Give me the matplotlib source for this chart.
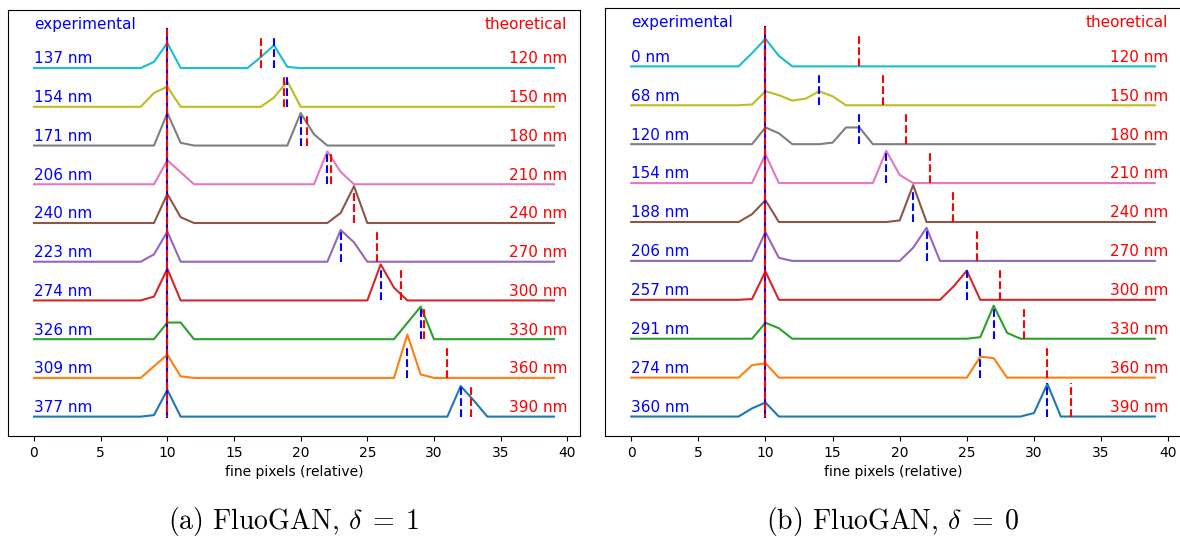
import numpy as np
import matplotlib
matplotlib.use("Agg")
import matplotlib.pyplot as plt

plt.rcParams['mathtext.fontset'] = 'cm'

# fine pixel grid
x = np.arange(40)
ref_x = 10  # reference peak position

# rows listed bottom -> top
colors = ['tab:blue', 'tab:orange', 'tab:green', 'tab:red', 'tab:purple',
          'tab:brown', 'tab:pink', 'tab:gray', 'tab:olive', 'tab:cyan']
theo_nm = [390, 360, 330, 300, 270, 240, 210, 180, 150, 120]
theo_x = [32.75, 31.0, 29.25, 27.5, 25.75, 24.0, 22.25, 20.5, 18.75, 17.0]

# (a) FluoGAN, delta = 1
exp_nm_a = [377, 309, 326, 274, 223, 240, 206, 171, 154, 137]
exp_x_a = [32, 28, 29, 26, 23, 24, 22, 20, 19, 18]
# non-zero samples of each profile {pixel: intensity}
profiles_a = [
    {9: .04, 10: .69, 32: .79, 33: .41},
    {9: .30, 10: .60, 11: .04, 28: 1.12, 29: .09},
    {10: .43, 11: .43, 28: .42, 29: .84},
    {9: .10, 10: .82, 26: .93, 27: .33},
    {9: .19, 10: .78, 23: .82, 24: .50},
    {10: .75, 11: .15, 23: .26, 24: .95},
    {10: .62, 11: .31, 22: .85, 23: .32},
    {10: .84, 11: .07, 20: .84, 21: .29},
    {9: .36, 10: .52, 18: .24, 19: .66},
    {9: .16, 10: .65, 17: .28, 18: .59, 19: .03},
]

# (b) FluoGAN, delta = 0
exp_nm_b = [360, 274, 291, 257, 206, 188, 154, 120, 68, 0]
exp_x_b = [31, 26, 27, 25, 22, 21, 19, 17, 14, 10]
profiles_b = [
    {9: .21, 10: .36, 30: .09, 31: .84},
    {9: .32, 10: .37, 26: .54, 27: .50},
    {10: .41, 11: .27, 26: .04, 27: .85, 28: .15},
    {9: .02, 10: .73, 24: .34, 25: .75},
    {10: .74, 11: .08, 21: .34, 22: .85},
    {9: .20, 10: .56, 20: .04, 21: .95},
    {10: .74, 19: .83, 20: .21},
    {10: .43, 11: .28, 15: .04, 16: .43, 17: .43},
    {9: .02, 10: .36, 11: .26, 12: .12, 13: .17, 14: .36, 15: .23},
    {9: .34, 10: .71, 11: .27},
]


def draw_panel(ax, profiles, exp_nm, exp_x):
    n = len(profiles)
    for i, prof in enumerate(profiles):
        y = np.zeros(len(x))
        for k, v in prof.items():
            y[k] = v
        ax.plot(x, y + i, color=colors[i], lw=1.5)
        ax.plot([exp_x[i], exp_x[i]], [i, i + 0.85], color='blue', ls='--', lw=1.5)
        ax.plot([theo_x[i], theo_x[i]], [i, i + 0.85], color='red', ls='--', lw=1.5)
        ax.text(0, i + 0.12, f"{exp_nm[i]} nm", color='blue', fontsize=11)
        ax.text(40, i + 0.12, f"{theo_nm[i]} nm", color='red', fontsize=11, ha='right')
    # reference position line (blue under red dashes)
    ax.plot([ref_x, ref_x], [0, n], color='blue', lw=1.5)
    ax.plot([ref_x, ref_x], [n, 0], color='red', ls='--', lw=1.5)
    ax.text(0, n, "experimental", color='blue', fontsize=11)
    ax.text(40, n, "theoretical", color='red', fontsize=11, ha='right')
    ax.set_yticks([])
    ax.set_xticks(np.arange(0, 41, 5))
    ax.tick_params(axis='x', labelsize=10)
    ax.set_xlabel("fine pixels (relative)", fontsize=10)


W, H = 1180, 537
fig = plt.figure(figsize=(W / 100, H / 100), dpi=100)
ax1 = fig.add_axes([8 / W, 101 / H, 572 / W, 426 / H])
ax2 = fig.add_axes([605 / W, 101 / H, 576 / W, 428 / H])

draw_panel(ax1, profiles_a, exp_nm_a, exp_x_a)
draw_panel(ax2, profiles_b, exp_nm_b, exp_x_b)

fig.text(294 / W, 16 / H, r"(a) FluoGAN, $\delta\;=\;1$", family='cmr10',
         fontsize=20, ha='center', va='center')
fig.text(893 / W, 16 / H, r"(b) FluoGAN, $\delta\;=\;0$", family='cmr10',
         fontsize=20, ha='center', va='center')

fig.savefig("out.png", dpi=100)
